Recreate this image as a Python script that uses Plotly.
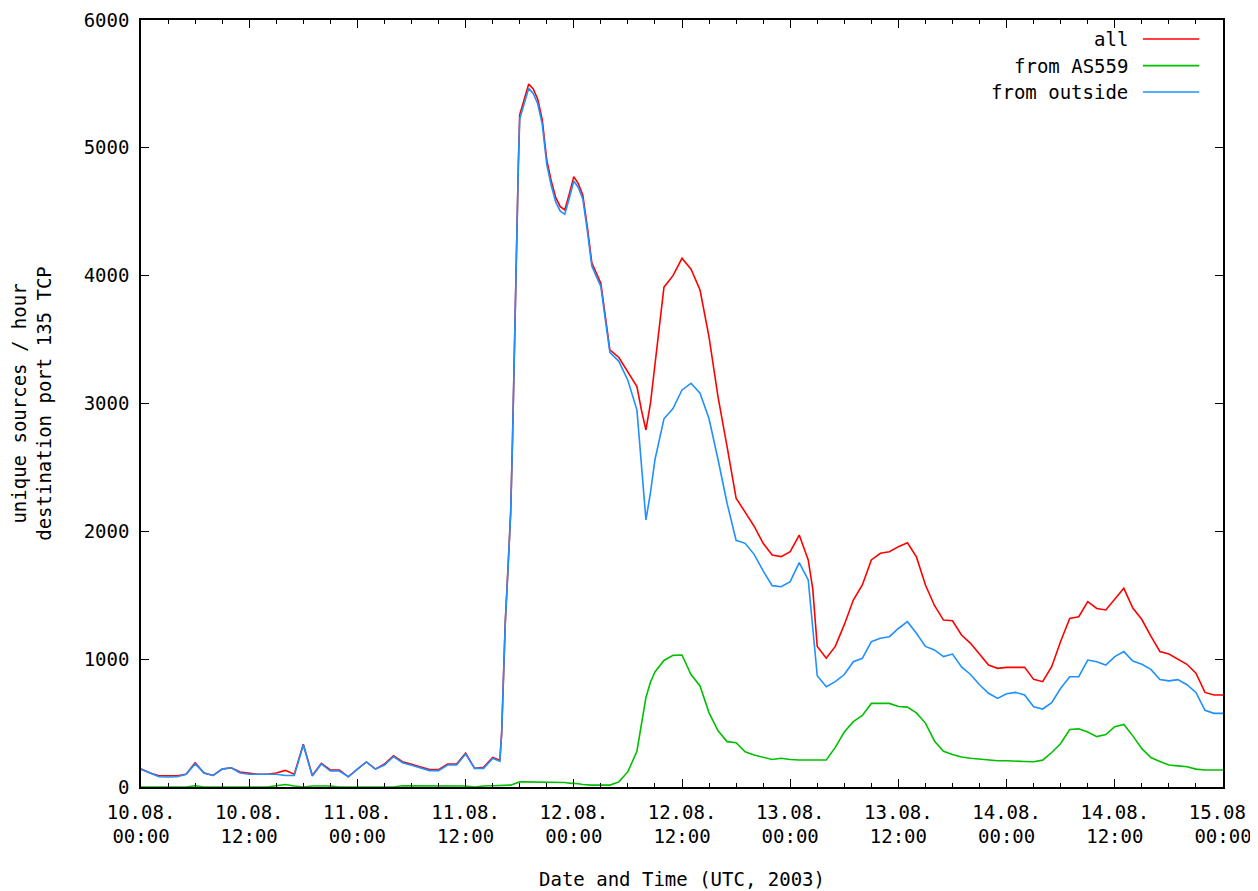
import plotly.graph_objects as go

# time axis: hours since 10.08.2003 00:00 UTC
hours = (
    list(range(0, 40))
    + [39.8, 40, 40.2, 40.4, 40.7, 41, 41.2, 41.4, 41.6, 41.85]
    + [42, 42.5, 43, 43.5, 44, 44.5, 45, 45.5, 46, 46.5, 47, 47.5, 48, 48.5, 49, 49.5, 50, 50.5, 51, 51.5, 52]
    + [53, 54, 55, 55.5, 56, 56.5] + list(range(57, 75)) + [74.5] + list(range(75, 121))
)
hours = sorted(hours)

all_src = [
    140, 110, 88, 86, 88, 100, 190, 110, 90, 140, 150, 118, 108, 100, 100, 110, 130, 100, 335, 90,
    185, 133, 133, 80, 140, 196, 140, 180, 245, 198, 178, 158, 136, 136, 180, 180, 265, 146, 154, 232,
    210, 425, 845, 1290, 1710, 2150, 2710, 3430, 4160, 4870,
    5258, 5380, 5500, 5460, 5380, 5220, 4905, 4740, 4610, 4540, 4514, 4640, 4775, 4720, 4630, 4380,
    4100, 4020, 3940, 3680, 3420,
    3360, 3250, 3132, 2949, 2793, 3000,
    3300, 3910, 4000, 4136, 4050, 3888, 3520, 3050, 2662, 2260, 2150, 2040, 1906, 1815, 1802, 1841,
    1971, 1776,
    1550,
    1100, 1007, 1100, 1270, 1463, 1580, 1776, 1828, 1840, 1880, 1910, 1800, 1580, 1420, 1306, 1300,
    1189, 1124, 1040, 954, 928, 936, 936, 936, 842, 824, 941, 1140, 1319, 1332, 1450, 1397, 1385,
    1470, 1554, 1400, 1310, 1180, 1060, 1040, 1000, 960, 890, 740, 720, 720,
]

from_as559 = [
    0, 0, 0, 0, 0, 0, 10, 0, 0, 0, 0, 0, 0, 0, 0, 10, 20, 8, 0, 8,
    10, 8, 0, 0, 0, 0, 0, 0, 0, 10, 10, 10, 10, 10, 10, 10, 8, 0, 8, 10,
    10, 10, 10, 10, 10, 15, 20, 25, 35, 38,
    40, 40, 40, 40, 40, 40, 40, 40, 35, 35, 35, 30, 30, 25, 20, 15, 15, 15, 15, 15, 15,
    40, 120, 280, 500, 700, 820,
    900, 990, 1030, 1033, 880, 790, 580, 440, 355, 347, 276, 250, 230, 215, 225, 215, 211, 211,
    211,
    211, 211, 310, 430, 511, 560, 654, 654, 654, 630, 625, 580, 500, 360, 280, 255,
    235, 225, 218, 211, 205, 205, 200, 200, 198, 210, 270, 340, 450, 455, 430, 394, 410,
    472, 489, 400, 300, 230, 200, 172, 165, 159, 140, 133, 133, 133,
]

from_outside = [
    140, 110, 80, 78, 80, 100, 180, 110, 90, 140, 150, 110, 100, 100, 100, 100, 90, 90, 329, 86,
    180, 125, 125, 80, 140, 196, 140, 172, 237, 190, 170, 150, 128, 128, 172, 172, 258, 146, 146, 224,
    200, 420, 840, 1280, 1700, 2140, 2700, 3420, 4150, 4860,
    5225, 5345, 5465, 5425, 5345, 5185, 4870, 4705, 4575, 4505, 4480, 4605, 4740, 4690, 4600, 4350,
    4075, 3995, 3915, 3655, 3400,
    3330, 3180, 2950, 2500, 2090, 2300,
    2560, 2880, 2960, 3106, 3158, 3080, 2880, 2560, 2220, 1930, 1906, 1820, 1690, 1575, 1567, 1606,
    1755, 1620,
    1250,
    870, 785, 824, 880, 980, 1007, 1137, 1163, 1176, 1240, 1293, 1202, 1100, 1072, 1020, 1040,
    940, 880, 800, 733, 693, 730, 740, 720, 628, 610, 660, 772, 863, 863, 993, 980, 954,
    1020, 1059, 985, 960, 920, 840, 830, 840, 800, 740, 600, 576, 576,
]

assert len(hours) == len(all_src) == len(from_as559) == len(from_outside), (
    len(hours), len(all_src), len(from_as559), len(from_outside))

tick_hours = [0, 12, 24, 36, 48, 60, 72, 84, 96, 108, 120]
tick_labels = [
    "10.08.<br>00:00", "10.08.<br>12:00", "11.08.<br>00:00", "11.08.<br>12:00",
    "12.08.<br>00:00", "12.08.<br>12:00", "13.08.<br>00:00", "13.08.<br>12:00",
    "14.08.<br>00:00", "14.08.<br>12:00", "15.08.<br>00:00",
]
series_names = ["all", "from AS559", "from outside"]
series_colors = ["#ff0000", "#00c000", "#1e90ff"]

FONT = "DejaVu Sans Mono"

fig = go.Figure()
for name, vals, col in zip(series_names, [all_src, from_as559, from_outside], series_colors):
    fig.add_trace(go.Scatter(x=hours, y=vals, mode="lines", name=name,
                             line=dict(color=col, width=1.6), showlegend=False))

# gnuplot-style key: text right-aligned, line sample to the right
key_y = [0.9752, 0.9405, 0.9061]
for name, col, ky in zip(series_names, series_colors, key_y):
    fig.add_annotation(x=0.914, y=ky, xref="paper", yref="paper", text=name,
                       showarrow=False, xanchor="right", yanchor="middle",
                       font=dict(family=FONT, size=19, color="black"))
    fig.add_shape(type="line", xref="paper", yref="paper", x0=0.926, x1=0.978, y0=ky, y1=ky,
                  line=dict(color=col, width=1.6))

# note: the page body adds an 8px offset, margins compensate for it
fig.update_layout(
    width=1258, height=891,
    margin=dict(l=133, r=43, t=12, b=112, autoexpand=False),
    paper_bgcolor="white", plot_bgcolor="white",
    font=dict(family=FONT, size=19, color="black"),
    showlegend=False,
)
fig.update_xaxes(
    range=[0, 120], tickvals=tick_hours, ticktext=tick_labels, automargin=False,
    showgrid=False, zeroline=False,
    showline=True, linecolor="black", linewidth=1.5, mirror="allticks",
    ticks="inside", ticklen=8, tickwidth=1.3, tickcolor="black",
    tickfont=dict(family=FONT, size=19), ticklabelstandoff=7,
    minor=dict(dtick=3, tick0=0, ticks="inside", ticklen=4, tickwidth=1.3, tickcolor="black"),
    title=dict(text="Date and Time (UTC, 2003)", font=dict(family=FONT, size=19), standoff=26),
)
fig.update_yaxes(
    range=[0, 6000], tickvals=[0, 1000, 2000, 3000, 4000, 5000, 6000], automargin=False,
    showgrid=False, zeroline=False,
    showline=True, linecolor="black", linewidth=1.5, mirror="allticks",
    ticks="inside", ticklen=8, tickwidth=1.3, tickcolor="black",
    tickfont=dict(family=FONT, size=19), ticklabelstandoff=6,
    title=dict(text="unique sources / hour<br>destination port 135 TCP",
               font=dict(family=FONT, size=19), standoff=34),
)

fig.write_html("out.html")
